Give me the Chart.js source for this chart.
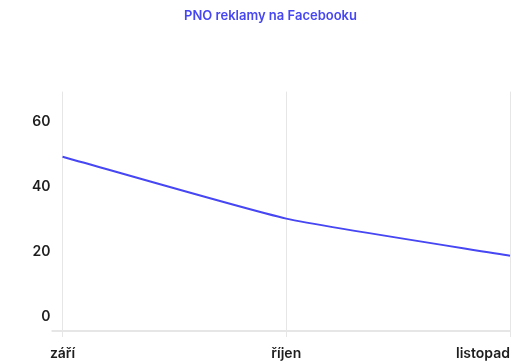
<!DOCTYPE html>
<html>
<head>
<meta charset="utf-8">
<script src="https://cdn.jsdelivr.net/npm/chart.js@4"></script>
<style>
  html, body { margin: 0; padding: 0; background: #fff; }
  #graf { display: block; }
</style>
</head>
<body>
<canvas id="graf" width="524" height="362"></canvas>
<script>
const mesice = ['září', 'říjen', 'listopad'];
const pno = [49.2, 30.2, 18.8];
const yTicky = [0, 20, 40, 60];
const yMin = -4.3;
const yMax = 69.2;

const modra = '#4646f5';
const seda = '#e6e6e6';

Chart.defaults.font.family = 'Inter, "DejaVu Sans", sans-serif';

// prvni popisek na ose x vycentrovat, posledni nechat zarovnany doprava
const zarovnani = {
    id: 'zarovnani',
    beforeDraw(chart) {
        const items = chart.scales.x.getLabelItems();
        if (items.length) items[0].options.textAlign = 'center';
    }
};

const graf = new Chart(document.getElementById('graf'), {
    type: 'line',
    data: {
        labels: mesice,
        datasets: [{
            label: 'PNO',
            data: pno,
            borderColor: modra,
            backgroundColor: modra,
            borderWidth: 2,
            pointRadius: 0,
            tension: 0.15
        }]
    },
    plugins: [zarovnani],
    options: {
        responsive: false,
        animation: false,
        layout: { padding: { left: 31, right: 14, bottom: 0 } },
        plugins: {
            legend: { display: false },
            tooltip: { enabled: false },
            title: {
                display: true,
                text: 'PNO reklamy na Facebooku',
                color: modra,
                font: { size: 13, weight: '600' },
                padding: { top: 8, bottom: 68 }
            }
        },
        scales: {
            x: {
                offset: false,
                border: { display: false },
                grid: { color: seda, lineWidth: 1, tickLength: 6 },
                afterFit: scale => { scale.height = 31; },
                ticks: {
                    color: '#1e1e1e',
                    font: { size: 14, weight: '600' },
                    padding: 8,
                    align: 'inner',
                    maxRotation: 0
                }
            },
            y: {
                min: yMin,
                max: yMax,
                afterBuildTicks: scale => {
                    scale.ticks = [{ value: yMin }].concat(yTicky.map(v => ({ value: v })));
                },
                border: { display: false },
                grid: {
                    tickLength: 11,
                    color: ctx => ctx.tick && ctx.tick.value === yMin ? seda : 'rgba(0,0,0,0)',
                    lineWidth: 2
                },
                ticks: {
                    color: '#1e1e1e',
                    font: { size: 14, weight: '600' },
                    padding: 1,
                    callback: v => v < 0 ? '' : v
                }
            }
        }
    }
});
</script>
</body>
</html>
